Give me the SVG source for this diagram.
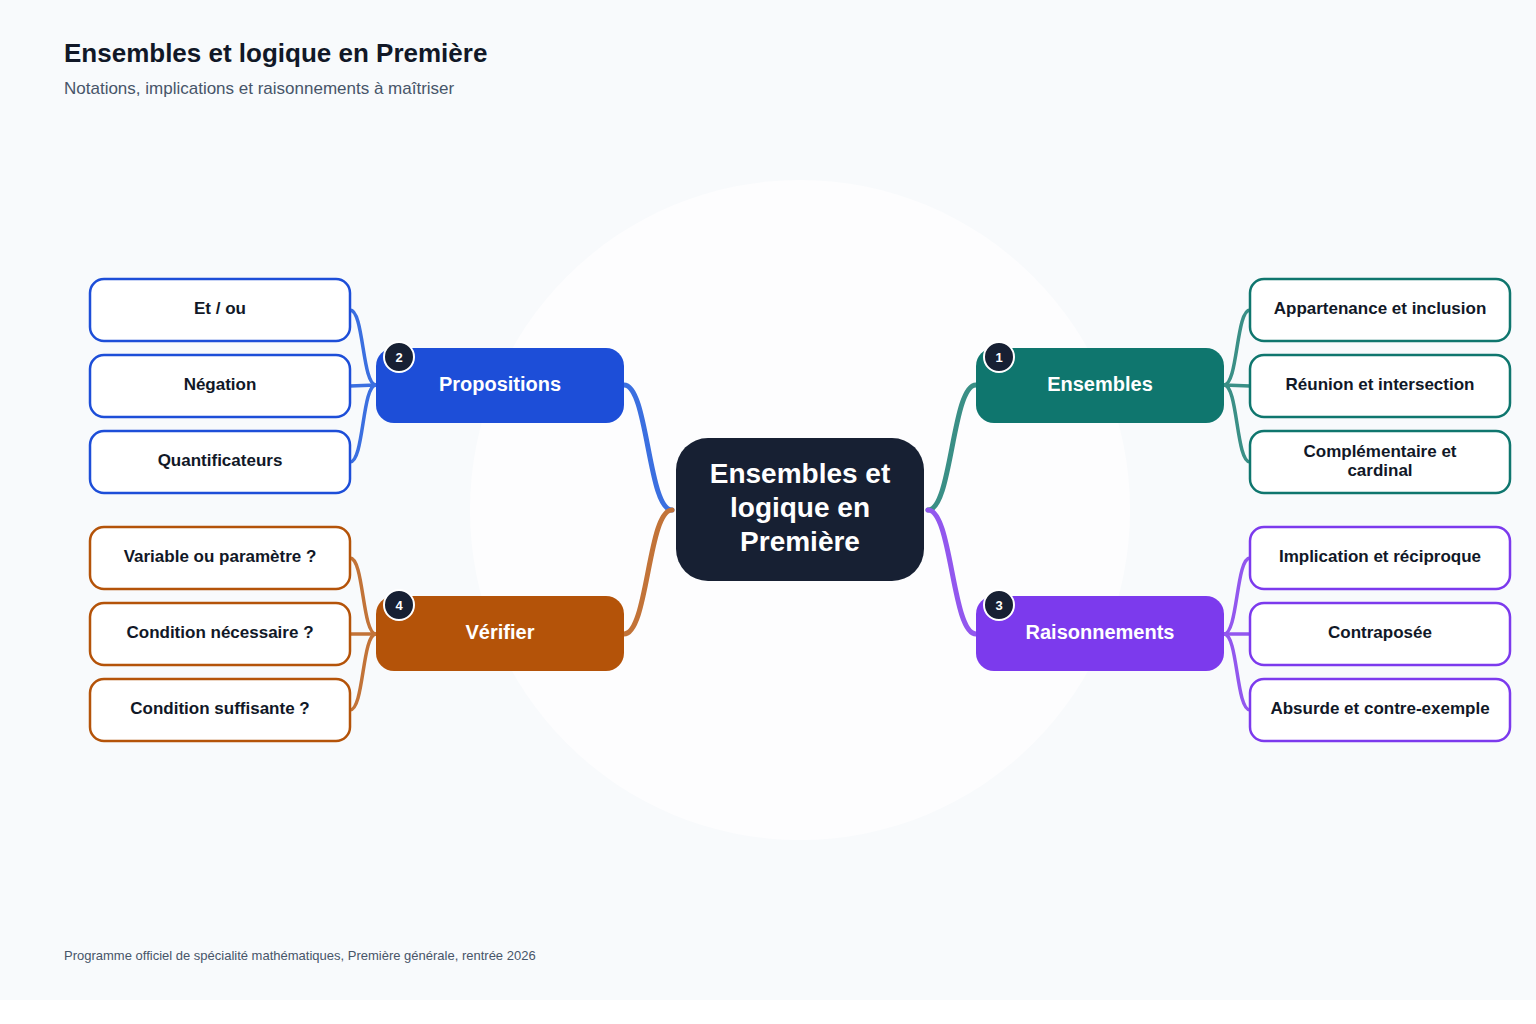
<svg xmlns="http://www.w3.org/2000/svg" width="1536" height="1024" viewBox="0 0 1536 1024">
<style>
text{font-family:"Liberation Sans",Arial,sans-serif}
.leaf{fill:#fff;stroke-width:2.5}
.lt{font-size:17px;font-weight:bold;fill:#111827;text-anchor:middle}
.bt{font-size:20px;font-weight:bold;fill:#fff;text-anchor:middle}
.badge{fill:#172033;stroke:#fff;stroke-width:2}
.bn{font-size:13px;font-weight:bold;fill:#fff;text-anchor:middle}
.c{fill:none;stroke-linecap:round}
</style>
<rect width="1536" height="1000" fill="#f8fafc"/>
<rect y="1000" width="1536" height="24" fill="#fff"/>
<circle cx="800" cy="510" r="330" fill="#fdfdfe"/>
<text x="64" y="62" font-size="26" font-weight="bold" fill="#111827">Ensembles et logique en Première</text>
<text x="64" y="94" font-size="17" fill="#475569">Notations, implications et raisonnements à maîtriser</text>
<text x="64" y="960" font-size="13" fill="#475569">Programme officiel de spécialité mathématiques, Première générale, rentrée 2026</text>
<g id="connectors">
<g stroke="#3b6fe0" class="c" stroke-width="5"><path class="c" d="M672 510 C648 510 648 385 624 385"/></g>
<g stroke="#3b6fe0" class="c" stroke-width="3.5"><path class="c" d="M376 385 C362 385 364 310 350 310"/><path class="c" d="M376 385 L350 386"/><path class="c" d="M376 385 C362 385 364 462 350 462"/></g>
<g stroke="#3a8f86" class="c" stroke-width="5"><path class="c" d="M928 510 C952 510 952 385 976 385"/></g>
<g stroke="#3a8f86" class="c" stroke-width="3.5"><path class="c" d="M1224 385 C1238 385 1236 310 1250 310"/><path class="c" d="M1224 385 L1250 386"/><path class="c" d="M1224 385 C1238 385 1236 462 1250 462"/></g>
<g stroke="#9257ee" class="c" stroke-width="5"><path class="c" d="M928 510 C952 510 952 634 976 634"/></g>
<g stroke="#9257ee" class="c" stroke-width="3.5"><path class="c" d="M1224 634 C1238 634 1236 558 1250 558"/><path class="c" d="M1224 634 L1250 634"/><path class="c" d="M1224 634 C1238 634 1236 710 1250 710"/></g>
<g stroke="#c27338" class="c" stroke-width="5"><path class="c" d="M672 510 C648 510 648 634 624 634"/></g>
<g stroke="#c27338" class="c" stroke-width="3.5"><path class="c" d="M376 634 C362 634 364 558 350 558"/><path class="c" d="M376 634 L350 634"/><path class="c" d="M376 634 C362 634 364 710 350 710"/></g>
</g>
<g id="center"><rect x="676" y="438" width="248" height="143" rx="32" fill="#172033"/>
<text x="800" y="483" font-size="28" font-weight="bold" fill="#fff" text-anchor="middle">Ensembles et</text>
<text x="800" y="517" font-size="28" font-weight="bold" fill="#fff" text-anchor="middle">logique en</text>
<text x="800" y="551" font-size="28" font-weight="bold" fill="#fff" text-anchor="middle">Première</text></g>
<g id="propositions"><rect x="376" y="348" width="248" height="75" rx="18" fill="#1d4ed8"/><text class="bt" x="500" y="391">Propositions</text><circle class="badge" cx="399" cy="357" r="15"/><text class="bn" x="399" y="362">2</text></g>
<g id="ensembles"><rect x="976" y="348" width="248" height="75" rx="18" fill="#0f766e"/><text class="bt" x="1100" y="391">Ensembles</text><circle class="badge" cx="999" cy="357" r="15"/><text class="bn" x="999" y="362">1</text></g>
<g id="raisonnements"><rect x="976" y="596" width="248" height="75" rx="18" fill="#7c3aed"/><text class="bt" x="1100" y="639">Raisonnements</text><circle class="badge" cx="999" cy="605" r="15"/><text class="bn" x="999" y="610">3</text></g>
<g id="verifier"><rect x="376" y="596" width="248" height="75" rx="18" fill="#b45309"/><text class="bt" x="500" y="639">Vérifier</text><circle class="badge" cx="399" cy="605" r="15"/><text class="bn" x="399" y="610">4</text></g>
<g id="l1"><rect class="leaf" stroke="#1d4ed8" x="90" y="279" width="260" height="62" rx="14"/><text class="lt" x="220" y="314">Et / ou</text></g>
<g id="l2"><rect class="leaf" stroke="#1d4ed8" x="90" y="355" width="260" height="62" rx="14"/><text class="lt" x="220" y="390">Négation</text></g>
<g id="l3"><rect class="leaf" stroke="#1d4ed8" x="90" y="431" width="260" height="62" rx="14"/><text class="lt" x="220" y="466">Quantificateurs</text></g>
<g id="l4"><rect class="leaf" stroke="#b45309" x="90" y="527" width="260" height="62" rx="14"/><text class="lt" x="220" y="562">Variable ou paramètre ?</text></g>
<g id="l5"><rect class="leaf" stroke="#b45309" x="90" y="603" width="260" height="62" rx="14"/><text class="lt" x="220" y="638">Condition nécessaire ?</text></g>
<g id="l6"><rect class="leaf" stroke="#b45309" x="90" y="679" width="260" height="62" rx="14"/><text class="lt" x="220" y="714">Condition suffisante ?</text></g>
<g id="r1"><rect class="leaf" stroke="#0f766e" x="1250" y="279" width="260" height="62" rx="14"/><text class="lt" x="1380" y="314">Appartenance et inclusion</text></g>
<g id="r2"><rect class="leaf" stroke="#0f766e" x="1250" y="355" width="260" height="62" rx="14"/><text class="lt" x="1380" y="390">Réunion et intersection</text></g>
<g id="r3"><rect class="leaf" stroke="#0f766e" x="1250" y="431" width="260" height="62" rx="14"/><text class="lt" x="1380" y="457">Complémentaire et</text><text class="lt" x="1380" y="476">cardinal</text></g>
<g id="r4"><rect class="leaf" stroke="#7c3aed" x="1250" y="527" width="260" height="62" rx="14"/><text class="lt" x="1380" y="562">Implication et réciproque</text></g>
<g id="r5"><rect class="leaf" stroke="#7c3aed" x="1250" y="603" width="260" height="62" rx="14"/><text class="lt" x="1380" y="638">Contraposée</text></g>
<g id="r6"><rect class="leaf" stroke="#7c3aed" x="1250" y="679" width="260" height="62" rx="14"/><text class="lt" x="1380" y="714">Absurde et contre-exemple</text></g>
</svg>
